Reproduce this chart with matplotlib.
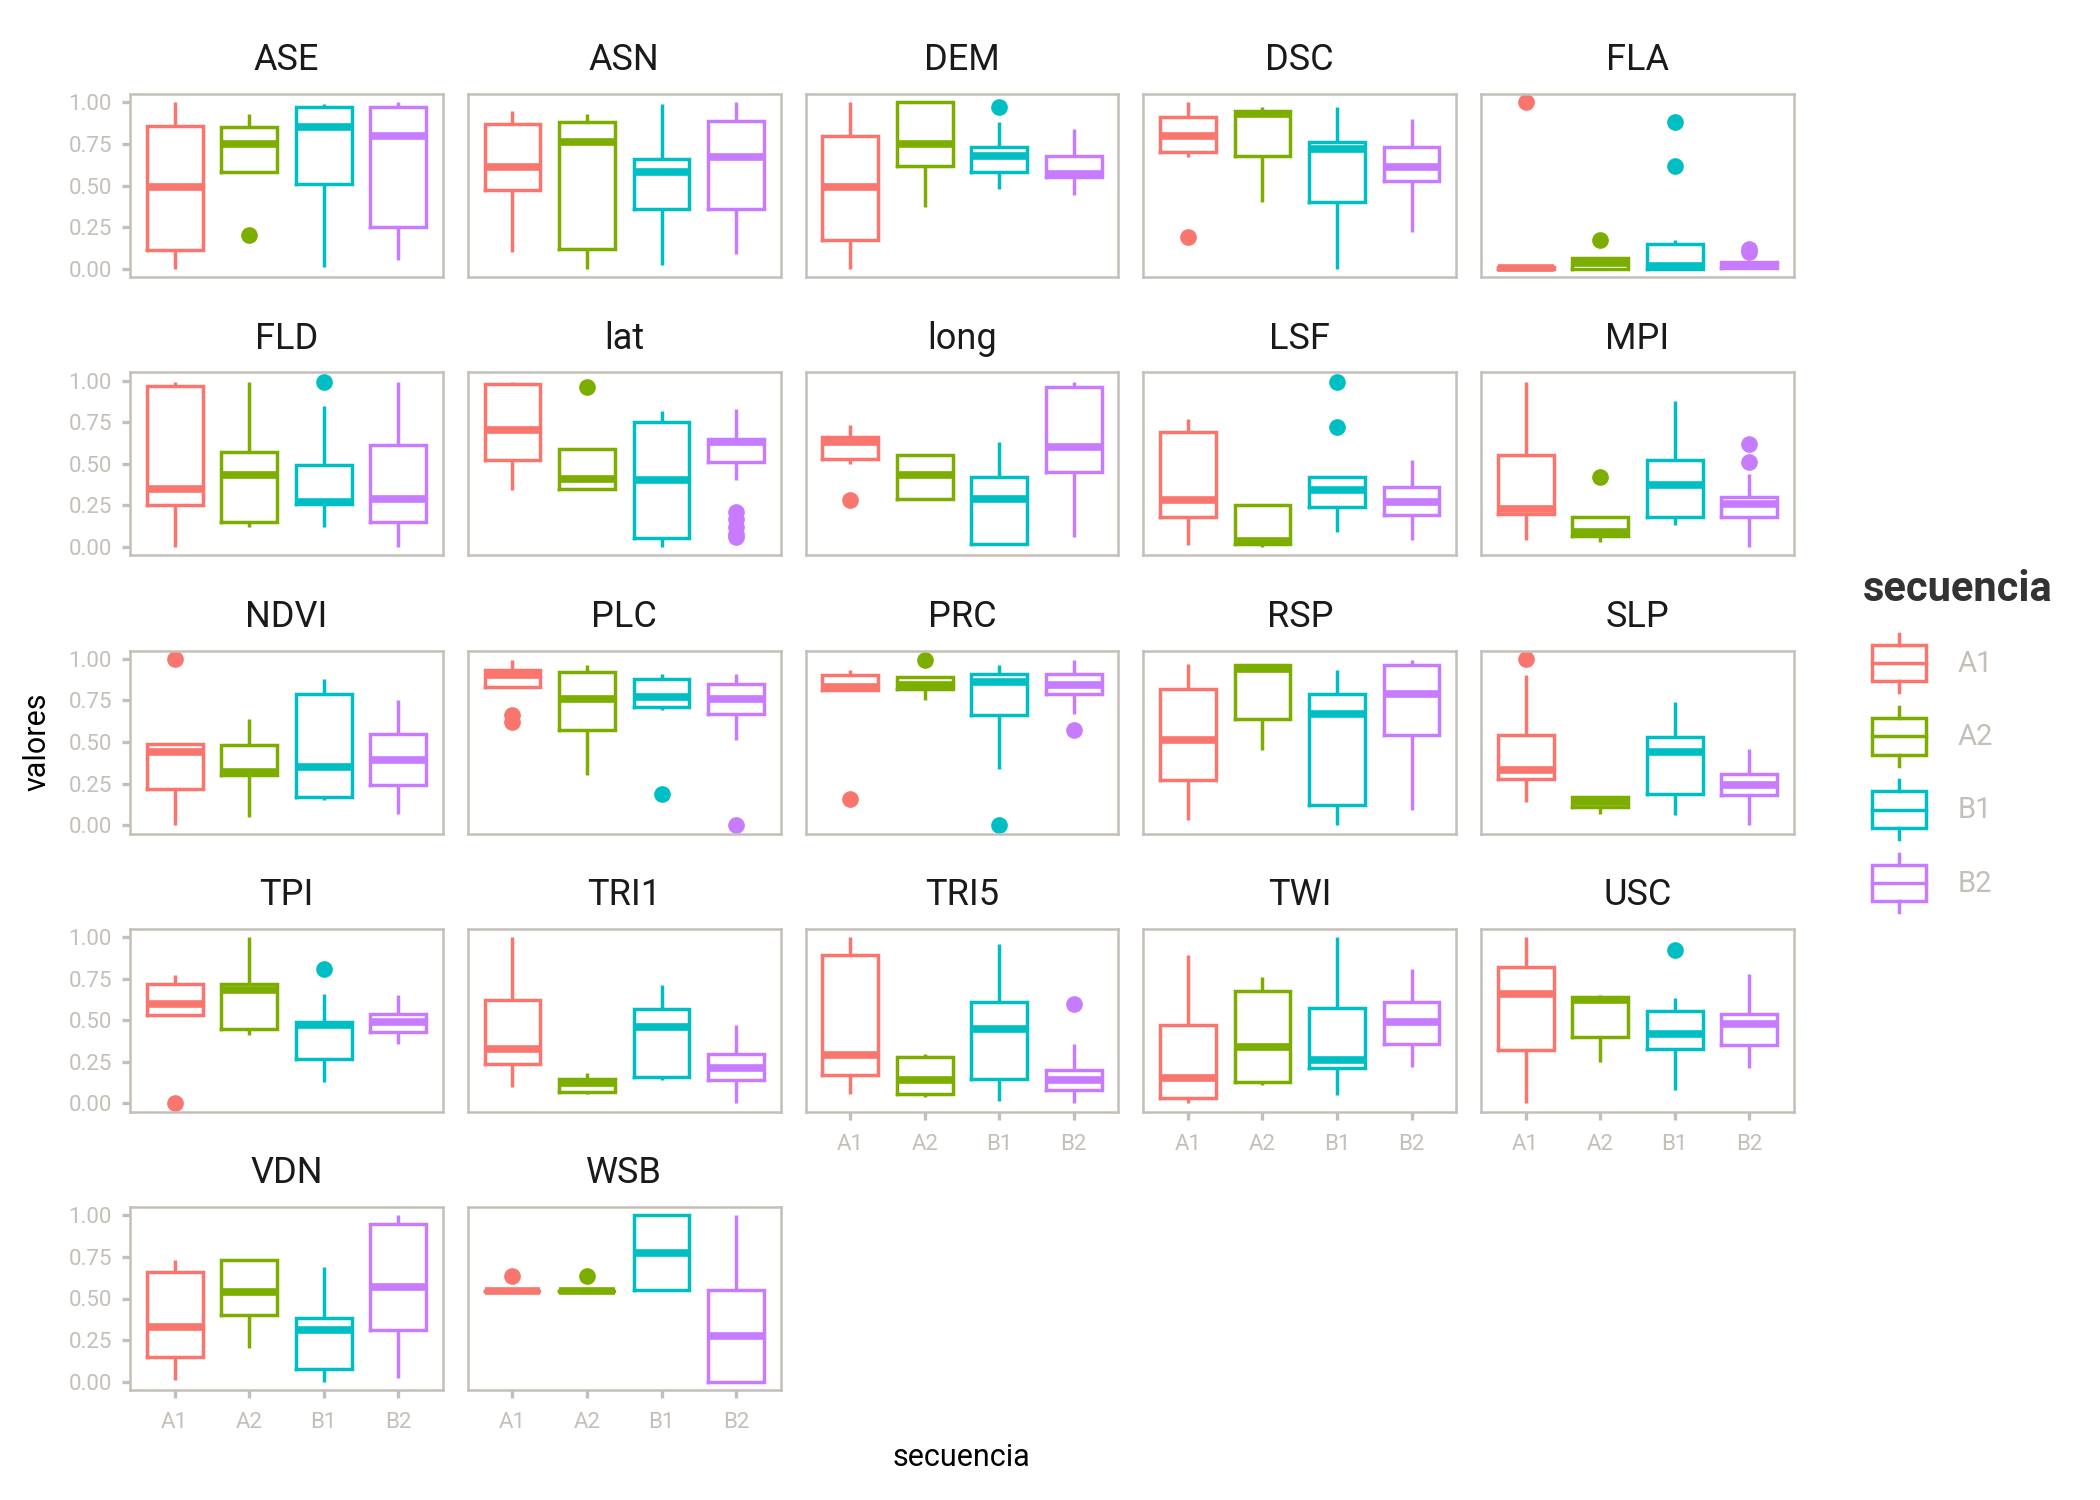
import matplotlib
matplotlib.use("Agg")
import matplotlib.pyplot as plt
from matplotlib.legend_handler import HandlerBase
from matplotlib.patches import Rectangle
from matplotlib.lines import Line2D

plt.rcParams["font.family"] = ["Roboto", "DejaVu Sans"]

variables = ["ASE", "ASN", "DEM", "DSC", "FLA",
             "FLD", "lat", "long", "LSF", "MPI",
             "NDVI", "PLC", "PRC", "RSP", "SLP",
             "TPI", "TRI1", "TRI5", "TWI", "USC",
             "VDN", "WSB"]
secuencias = ["A1", "A2", "B1", "B2"]
colores = ["#F8766D", "#7CAE00", "#00BFC4", "#C77CFF"]

# one row per variable, one value per secuencia (A1, A2, B1, B2)
whislo = [
    [0.00, 0.58, 0.01, 0.05], [0.10, 0.00, 0.02, 0.09], [0.00, 0.37, 0.48, 0.44],
    [0.67, 0.40, 0.00, 0.22], [0.00, 0.00, 0.00, 0.00],
    [0.00, 0.12, 0.12, 0.00], [0.34, 0.35, 0.00, 0.40], [0.50, 0.28, 0.01, 0.06],
    [0.01, 0.00, 0.09, 0.04], [0.04, 0.03, 0.13, 0.00],
    [0.00, 0.05, 0.15, 0.07], [0.83, 0.30, 0.69, 0.51], [0.81, 0.75, 0.34, 0.67],
    [0.03, 0.45, 0.00, 0.09], [0.14, 0.07, 0.06, 0.00],
    [0.53, 0.41, 0.13, 0.36], [0.10, 0.055, 0.14, 0.00], [0.054, 0.04, 0.014, 0.00],
    [0.00, 0.11, 0.05, 0.22], [0.00, 0.25, 0.08, 0.21],
    [0.01, 0.20, 0.00, 0.02], [0.547, 0.547, 0.551, 0.00],
]
q1 = [
    [0.11, 0.58, 0.51, 0.25], [0.47, 0.12, 0.36, 0.36], [0.17, 0.62, 0.58, 0.55],
    [0.70, 0.68, 0.40, 0.53], [0.00, 0.00, 0.00, 0.005],
    [0.25, 0.15, 0.26, 0.15], [0.52, 0.35, 0.055, 0.51], [0.53, 0.29, 0.02, 0.45],
    [0.18, 0.02, 0.24, 0.19], [0.20, 0.065, 0.18, 0.18],
    [0.22, 0.30, 0.17, 0.24], [0.83, 0.57, 0.71, 0.67], [0.81, 0.82, 0.66, 0.79],
    [0.27, 0.64, 0.12, 0.54], [0.275, 0.11, 0.19, 0.18],
    [0.53, 0.45, 0.27, 0.43], [0.24, 0.07, 0.157, 0.143], [0.17, 0.054, 0.147, 0.078],
    [0.034, 0.13, 0.21, 0.36], [0.32, 0.40, 0.33, 0.35],
    [0.15, 0.40, 0.076, 0.31], [0.547, 0.547, 0.551, 0.00],
]
medianas = [
    [0.49, 0.75, 0.85, 0.80], [0.61, 0.76, 0.58, 0.67], [0.49, 0.75, 0.68, 0.57],
    [0.80, 0.93, 0.72, 0.61], [0.003, 0.035, 0.015, 0.025],
    [0.35, 0.43, 0.27, 0.29], [0.70, 0.41, 0.40, 0.63], [0.63, 0.43, 0.29, 0.60],
    [0.28, 0.035, 0.34, 0.27], [0.23, 0.09, 0.37, 0.26],
    [0.44, 0.32, 0.35, 0.39], [0.90, 0.76, 0.77, 0.76], [0.83, 0.84, 0.86, 0.84],
    [0.51, 0.94, 0.67, 0.79], [0.33, 0.14, 0.44, 0.24],
    [0.60, 0.68, 0.47, 0.49], [0.33, 0.125, 0.46, 0.21], [0.29, 0.143, 0.45, 0.143],
    [0.15, 0.34, 0.26, 0.49], [0.66, 0.62, 0.42, 0.48],
    [0.33, 0.54, 0.31, 0.57], [0.547, 0.547, 0.775, 0.274],
]
q3 = [
    [0.86, 0.85, 0.97, 0.97], [0.87, 0.88, 0.66, 0.89], [0.80, 1.00, 0.73, 0.68],
    [0.91, 0.95, 0.76, 0.73], [0.01, 0.065, 0.15, 0.04],
    [0.97, 0.57, 0.49, 0.61], [0.98, 0.59, 0.75, 0.65], [0.66, 0.55, 0.42, 0.96],
    [0.69, 0.25, 0.42, 0.36], [0.55, 0.18, 0.52, 0.30],
    [0.49, 0.48, 0.79, 0.55], [0.935, 0.92, 0.88, 0.85], [0.90, 0.89, 0.91, 0.91],
    [0.82, 0.96, 0.79, 0.96], [0.54, 0.17, 0.53, 0.31],
    [0.715, 0.72, 0.49, 0.54], [0.62, 0.145, 0.57, 0.30], [0.89, 0.28, 0.61, 0.20],
    [0.47, 0.675, 0.575, 0.61], [0.82, 0.64, 0.556, 0.54],
    [0.66, 0.73, 0.38, 0.95], [0.547, 0.547, 1.00, 0.551],
]
whishi = [
    [1.00, 0.93, 0.99, 1.00], [0.95, 0.93, 0.99, 1.00], [1.00, 1.00, 0.88, 0.84],
    [1.00, 0.97, 0.97, 0.90], [0.01, 0.065, 0.17, 0.04],
    [0.99, 0.99, 0.85, 0.99], [0.99, 0.59, 0.82, 0.83], [0.73, 0.55, 0.63, 0.99],
    [0.77, 0.25, 0.42, 0.52], [0.99, 0.18, 0.88, 0.44],
    [0.49, 0.64, 0.88, 0.75], [0.99, 0.96, 0.91, 0.91], [0.935, 0.89, 0.96, 0.99],
    [0.97, 0.97, 0.93, 0.99], [0.90, 0.17, 0.74, 0.455],
    [0.77, 1.00, 0.655, 0.65], [1.00, 0.18, 0.71, 0.47], [1.00, 0.30, 0.96, 0.36],
    [0.89, 0.76, 1.00, 0.81], [1.00, 0.65, 0.635, 0.78],
    [0.73, 0.73, 0.69, 1.00], [0.547, 0.547, 1.00, 1.00],
]
atipicos = {
    ("ASE", "A2"): [0.20],
    ("DEM", "B1"): [0.97],
    ("DSC", "A1"): [0.19],
    ("FLA", "A1"): [1.00], ("FLA", "A2"): [0.17], ("FLA", "B1"): [0.62, 0.88],
    ("FLA", "B2"): [0.10, 0.12],
    ("FLD", "B1"): [0.99],
    ("lat", "A2"): [0.96], ("lat", "B2"): [0.21, 0.17, 0.12, 0.08, 0.06],
    ("long", "A1"): [0.28],
    ("LSF", "B1"): [0.72, 0.99],
    ("MPI", "A2"): [0.42], ("MPI", "B2"): [0.51, 0.62],
    ("NDVI", "A1"): [1.00],
    ("PLC", "A1"): [0.62, 0.66], ("PLC", "B1"): [0.19], ("PLC", "B2"): [0.00],
    ("PRC", "A1"): [0.16], ("PRC", "A2"): [0.99], ("PRC", "B1"): [0.00],
    ("PRC", "B2"): [0.57],
    ("SLP", "A1"): [1.00],
    ("TPI", "A1"): [0.00], ("TPI", "B1"): [0.81],
    ("TRI5", "B2"): [0.60],
    ("USC", "B1"): [0.92],
    ("WSB", "A1"): [0.636], ("WSB", "A2"): [0.636],
}

gris = "#C4BFB8"
lw_box = 2.5
lw_med = 5.5


class BoxKeyHandler(HandlerBase):
    def create_artists(self, legend, orig_handle, xdescent, ydescent,
                       width, height, fontsize, trans):
        c = orig_handle.get_edgecolor()
        x0, y0 = -xdescent, -ydescent
        caja = Rectangle((x0 + 0.05 * width, y0 + 0.19 * height), 0.9 * width, 0.62 * height,
                         facecolor="white", edgecolor=c, lw=lw_box, transform=trans)
        med = Line2D([x0 + 0.05 * width, x0 + 0.95 * width], [y0 + 0.5 * height] * 2,
                     color=c, lw=lw_box, transform=trans)
        bigote1 = Line2D([x0 + 0.5 * width] * 2, [y0, y0 + 0.19 * height],
                         color=c, lw=lw_box, transform=trans)
        bigote2 = Line2D([x0 + 0.5 * width] * 2, [y0 + 0.81 * height, y0 + height],
                         color=c, lw=lw_box, transform=trans)
        return [caja, med, bigote1, bigote2]


fig = plt.figure(figsize=(21, 15), dpi=100)
W, H = 2100, 1500
pw, ph = 313, 183
x_step, y_step = 337.75, 278.25

for i, var in enumerate(variables):
    fila, col = divmod(i, 5)
    left = 130 + col * x_step
    top = 94 + fila * y_step
    ax = fig.add_axes([left / W, 1 - (top + ph) / H, pw / W, ph / H])
    for j, sec in enumerate(secuencias):
        stat = {
            "whislo": whislo[i][j], "q1": q1[i][j], "med": medianas[i][j],
            "q3": q3[i][j], "whishi": whishi[i][j],
            "fliers": atipicos.get((var, sec), []), "label": sec,
        }
        c = colores[j]
        ax.bxp([stat], positions=[j + 1], widths=0.75, showcaps=False,
               boxprops=dict(color=c, lw=lw_box, solid_joinstyle="miter"),
               whiskerprops=dict(color=c, lw=lw_box, solid_capstyle="butt"),
               medianprops=dict(color=c, lw=lw_med, solid_capstyle="butt"),
               flierprops=dict(marker="o", markersize=11, markerfacecolor=c,
                               markeredgecolor=c))
    ax.set_xlim(0.4, 4.6)
    ax.set_ylim(-0.05, 1.05)
    ax.set_xticks([1, 2, 3, 4])
    ax.set_xticklabels(secuencias)
    ax.set_yticks([0, 0.25, 0.5, 0.75, 1.0])
    ax.set_yticklabels(["0.00", "0.25", "0.50", "0.75", "1.00"])
    for s in ax.spines.values():
        s.set_color(gris)
        s.set_linewidth(1.8)
    ax.tick_params(colors=gris, labelcolor=gris, labelsize=16, length=6, width=2.4, pad=7)
    ax.tick_params(axis="x", pad=10)
    if col != 0:
        ax.tick_params(left=False, labelleft=False)
    if i + 5 < len(variables):
        ax.tick_params(bottom=False, labelbottom=False)
    ax.set_title(var, fontsize=26, color="#1A1A1A", pad=17)

fig.text(962 / W, 1 - 1458 / H, "secuencia", ha="center", va="center", fontsize=22, color="black")
fig.text(37 / W, 1 - 742 / H, "valores", ha="center", va="center", rotation=90,
         fontsize=22, color="black")

fig.text(1863 / W, 1 - 589 / H, "secuencia", ha="left", va="center", fontsize=30,
         fontweight="bold", color="#333333")
handles = [Rectangle((0, 0), 1, 1, facecolor="white", edgecolor=c) for c in colores]
leg = fig.legend(handles, secuencias, loc="center left",
                 bbox_to_anchor=(1869 / W, 1 - 773 / H), frameon=False,
                 borderpad=0, borderaxespad=0,
                 fontsize=21, handlelength=2.05, handleheight=2.72, labelspacing=0.5,
                 handletextpad=1.0, handler_map={Rectangle: BoxKeyHandler()})
for t in leg.get_texts():
    t.set_color(gris)

fig.savefig("out.png", dpi=100)
